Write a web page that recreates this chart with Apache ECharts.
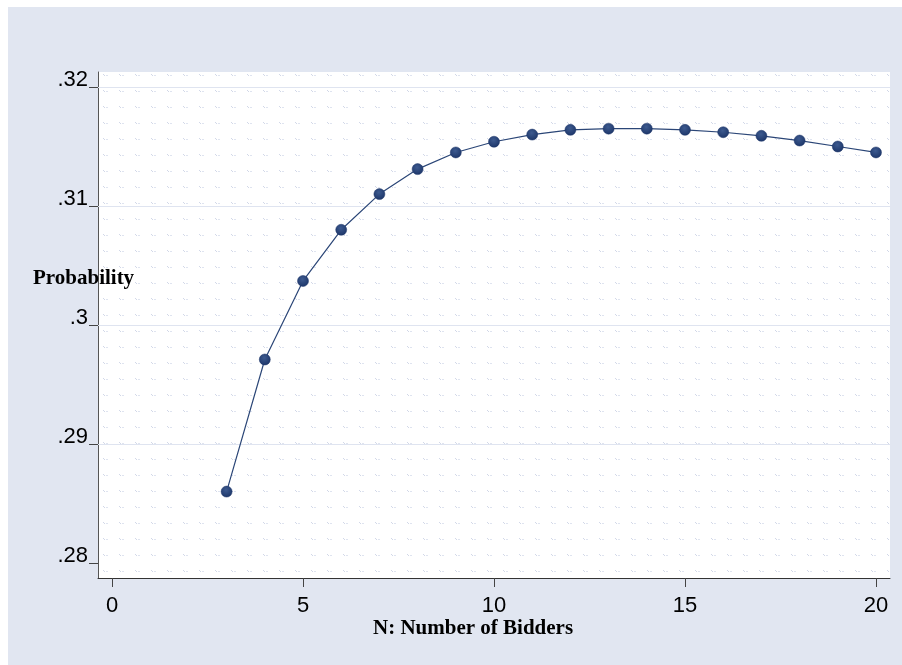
<!DOCTYPE html>
<html>
<head>
<meta charset="utf-8">
<script src="https://cdn.jsdelivr.net/npm/echarts@6/dist/echarts.min.js"></script>
<style>
html,body{margin:0;padding:0;background:#ffffff;width:902px;height:665px;overflow:hidden;}
#chart{position:absolute;left:8px;top:7px;width:894px;height:658px;}
</style>
</head>
<body>
<div id="chart"></div>
<script>
// ---- data ----
var bidders = [3,4,5,6,7,8,9,10,11,12,13,14,15,16,17,18,19,20];
var probability = [0.2860,0.2971,0.3037,0.3080,0.3110,0.3131,0.3145,0.3154,0.3160,0.3164,0.3165,0.3165,0.3164,0.3162,0.3159,0.3155,0.3150,0.3145];
var xTicks = [0,5,10,15,20];
var yTicks = [0.28,0.29,0.30,0.31,0.32];
var yTickLabels = ['.28','.29','.3','.31','.32'];
var yGridValues = [0.29,0.30,0.31,0.32];
var xTitle = 'N: Number of Bidders';
var yTitle = 'Probability';

// texture pattern
var tile = document.createElement('canvas');
tile.width = 16; tile.height = 16;
var c = tile.getContext('2d');
c.fillStyle = '#ffffff'; c.fillRect(0,0,16,16);
c.fillStyle = 'rgba(205,212,230,0.9)';
c.fillRect(15,3,1,1); c.fillRect(0,4,1,1);
c.fillStyle = 'rgba(215,221,236,0.8)';
c.fillRect(2,4,2,1);

var chart = echarts.init(document.getElementById('chart'), null, {renderer:'canvas'});
var points = bidders.map(function(n,i){return [n, probability[i]];});
var serif = '"Liberation Serif","Times New Roman",serif';
var sans = '"Liberation Sans",Arial,sans-serif';

chart.setOption({
  backgroundColor: '#e1e6f1',
  animation: false,
  grid: {
    left: 90, top: 65, right: 12, bottom: 87,
    show: true,
    backgroundColor: {image: tile, repeat: 'repeat'},
    borderWidth: 0
  },
  xAxis: {
    type: 'value',
    min: -0.3665, max: 20.3665,
    axisLine: {show: true, onZero: false, lineStyle: {color: '#333', width: 1}},
    axisTick: {show: true, length: 9, customValues: xTicks, lineStyle: {color: '#444'}},
    axisLabel: {
      customValues: xTicks,
      margin: 17,
      color: '#000',
      fontFamily: sans,
      fontSize: 22,
      lineHeight: 22
    },
    splitLine: {show: false}
  },
  yAxis: {
    type: 'value',
    min: 0.278739, max: 0.321261,
    axisLine: {show: true, onZero: false, lineStyle: {color: '#555', width: 1}},
    axisTick: {show: true, length: 9, customValues: yTicks, lineStyle: {color: '#444'}},
    axisLabel: {
      customValues: yTicks,
      margin: 10,
      color: '#000',
      fontFamily: sans,
      fontSize: 22,
      lineHeight: 15,
      verticalAlign: 'bottom',
      formatter: function(v){
        for (var i=0;i<yTicks.length;i++){ if (Math.abs(yTicks[i]-v)<1e-6) return yTickLabels[i]; }
        return '';
      }
    },
    splitLine: {show: false}
  },
  series: [{
    type: 'line',
    data: points,
    symbol: 'circle',
    symbolSize: 11,
    showAllSymbol: true,
    lineStyle: {color: '#2b4677', width: 1.2},
    itemStyle: {
      color: {
        type: 'radial', x: 0.45, y: 0.35, r: 0.7,
        colorStops: [{offset: 0, color: '#3d5a8f'}, {offset: 1, color: '#1a3366'}]
      },
      borderColor: '#1a3366', borderWidth: 0.5
    },
    markLine: {
      silent: true,
      symbol: ['none','none'],
      label: {show: false},
      lineStyle: {color: '#dfe4f0', width: 1, type: 'solid'},
      data: yGridValues.map(function(v){return {yAxis: v};}),
      z: 1
    },
    z: 3
  }],
  graphic: [
    {
      type: 'text', left: 25, top: 261, z: 100,
      style: {text: yTitle, fontFamily: serif, fontWeight: 'bold', fontSize: 21, fill: '#000'}
    },
    {
      type: 'text', left: 365, top: 611, z: 100,
      style: {text: xTitle, fontFamily: serif, fontWeight: 'bold', fontSize: 21, fill: '#000'}
    }
  ]
});
</script>
</body>
</html>
